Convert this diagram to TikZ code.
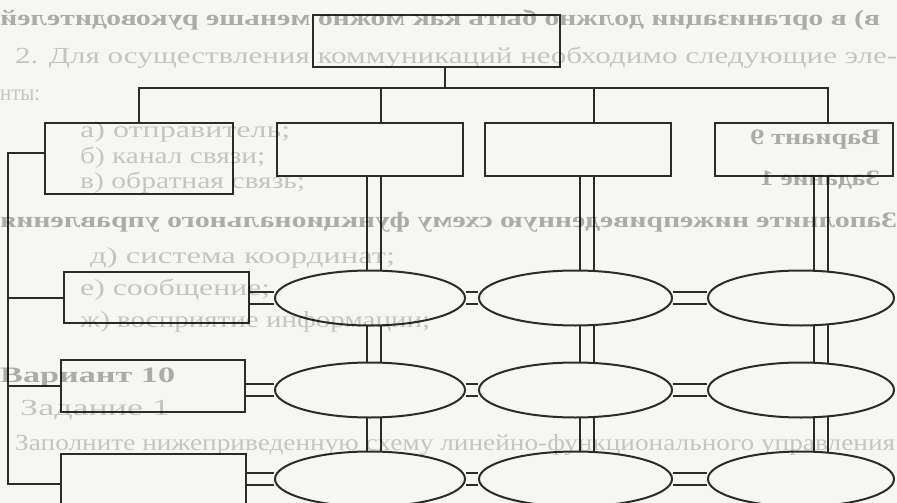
\documentclass[tikz,border=0pt]{standalone}
\usepackage{fontspec}
\setmainfont{Liberation Serif}
\usetikzlibrary{shapes.geometric,positioning}
\pgfdeclarelayer{paper}
\pgfdeclarelayer{links}
\pgfsetlayers{paper,links,main}
\definecolor{paper}{HTML}{F6F6F3}
\definecolor{ink}{HTML}{2B2B2B}
\newcommand{\fitline}[2]{\resizebox{#1}{\height}{#2}}
\newcommand{\mirrorline}[2]{\reflectbox{\resizebox{#1}{\height}{#2}}}
\tikzset{
  box/.style={draw=ink, fill=paper, line width=2pt, inner sep=0pt},
  oval/.style={ellipse, draw=ink, fill=paper, line width=2pt, inner sep=0pt, minimum height=55},
  link/.style={draw=ink, line width=2pt},
  hlink/.style={draw=ink, line width=2pt, double=paper, double distance=10pt},
  vlink/.style={draw=ink, line width=2pt, double=paper, double distance=12pt},
  ghost/.style={anchor=west, inner sep=0pt, text=black, text opacity=0.3, font=\fontsize{22}{22}\selectfont\bfseries},
  faint/.style={anchor=west, inner sep=0pt, text=black, text opacity=0.2, font=\fontsize{23}{23}\selectfont}
}
\begin{document}
\begin{tikzpicture}[x=1pt, y=-1pt]
\useasboundingbox (0,0) rectangle (897,503);
\begin{pgfonlayer}{paper}
\fill[paper] (0,0) rectangle (897,503);
\end{pgfonlayer}

% head and departments
\node[box, minimum width=247, minimum height=52] (chief) at (436.5,41) {};
\node[box, minimum width=188, minimum height=71] (d1) at (139,158.5) {};
\node[box, minimum width=186, minimum height=53] (d2) at (370,149.5) {};
\node[box, minimum width=186, minimum height=53] (d3) at (578,149.5) {};
\node[box, minimum width=178, minimum height=53] (d4) at (804,149.5) {};

% left column
\node[box, minimum width=185, minimum height=51] (u1) at (156.5,297.5) {};
\node[box, minimum width=184, minimum height=52] (u2) at (153,386) {};
\node[box, minimum width=185, minimum height=50] (u3) at (153.5,479) {};

% ellipses
\foreach \r/\y in {1/298,2/390,3/479}{
  \node[oval, minimum width=190] (e\r1) at (370,\y) {};
  \node[oval, minimum width=193] (e\r2) at (575.5,\y) {};
  \node[oval, minimum width=186] (e\r3) at (801,\y) {};
}

\coordinate (jT) at (445,88);
\coordinate (jA) at (381,88);
\coordinate (jB) at (594,88);
\coordinate (jC) at (828,88);
\coordinate (s3) at (8,484);
\coordinate (cA) at (374,0);
\coordinate (cB) at (586.5,0);
\coordinate (cC) at (820.5,0);

\begin{pgfonlayer}{links}
\draw[link] (chief.south -| jT) -- (jT);
\draw[link] (d1.north) |- (jC) -- (d4.north -| jC);
\draw[link] (jA) -- (d2.north -| jA);
\draw[link] (jB) -- (d3.north -| jB);
\draw[link] ([yshift=5.5pt]d1.west) -| (s3) -- (s3 -| u3.west);
\foreach \u in {u1,u2}
  \draw[link] (s3 |- \u) -- (\u.west);
\foreach \d/\c/\k in {d2/cA/1,d3/cB/2,d4/cC/3}{
  \draw[vlink] (\d -| \c) -- (e1\k -| \c);
  \draw[vlink] (e1\k -| \c) -- (e2\k -| \c);
  \draw[vlink] (e2\k -| \c) -- (e3\k -| \c);
}
\foreach \r in {1,2,3}{
  \draw[hlink] (u\r.east |- e\r1) -- (e\r1);
  \draw[hlink] (e\r1) -- (e\r2);
  \draw[hlink] (e\r2) -- (e\r3);
}
\end{pgfonlayer}

% show-through of the page
\node[ghost] (t1) at (0,20) {\mirrorline{880pt}{в) в организации должно быть как можно меньше руководителей}};
\node[faint] (t2) at (15,58) {\fitline{882pt}{2. Для осуществления коммуникаций необходимо следующие эле-}};
\node[faint] (t3) at (0,95) {\fitline{40pt}{нты:}};
\node[faint] (t4) at (80,132) {\fitline{210pt}{а) отправитель;}};
\node[faint] (t5) at (80,158) {\fitline{185pt}{б) канал связи;}};
\node[faint] (t6) at (80,183) {\fitline{225pt}{в) обратная связь;}};
\node[ghost] (t7) at (750,140) {\mirrorline{130pt}{Вариант 9}};
\node[ghost] (t8) at (760,180) {\mirrorline{120pt}{Задание 1}};
\node[ghost] (t9) at (0,222) {\mirrorline{897pt}{Заполните нижеприведенную схему функционального управления}};
\node[faint] (t10) at (90,258) {\fitline{305pt}{д) система координат;}};
\node[faint] (t11) at (80,290) {\fitline{190pt}{е) сообщение;}};
\node[faint] (t12) at (80,322) {\fitline{350pt}{ж) восприятие информации;}};
\node[ghost] (t13) at (0,378) {\fitline{175pt}{Вариант 10}};
\node[faint] (t14) at (20,410) {\fitline{150pt}{Задание 1}};
\node[faint] (t15) at (15,445) {\fitline{880pt}{Заполните нижеприведенную схему линейно-функционального управления}};
\end{tikzpicture}
\end{document}
